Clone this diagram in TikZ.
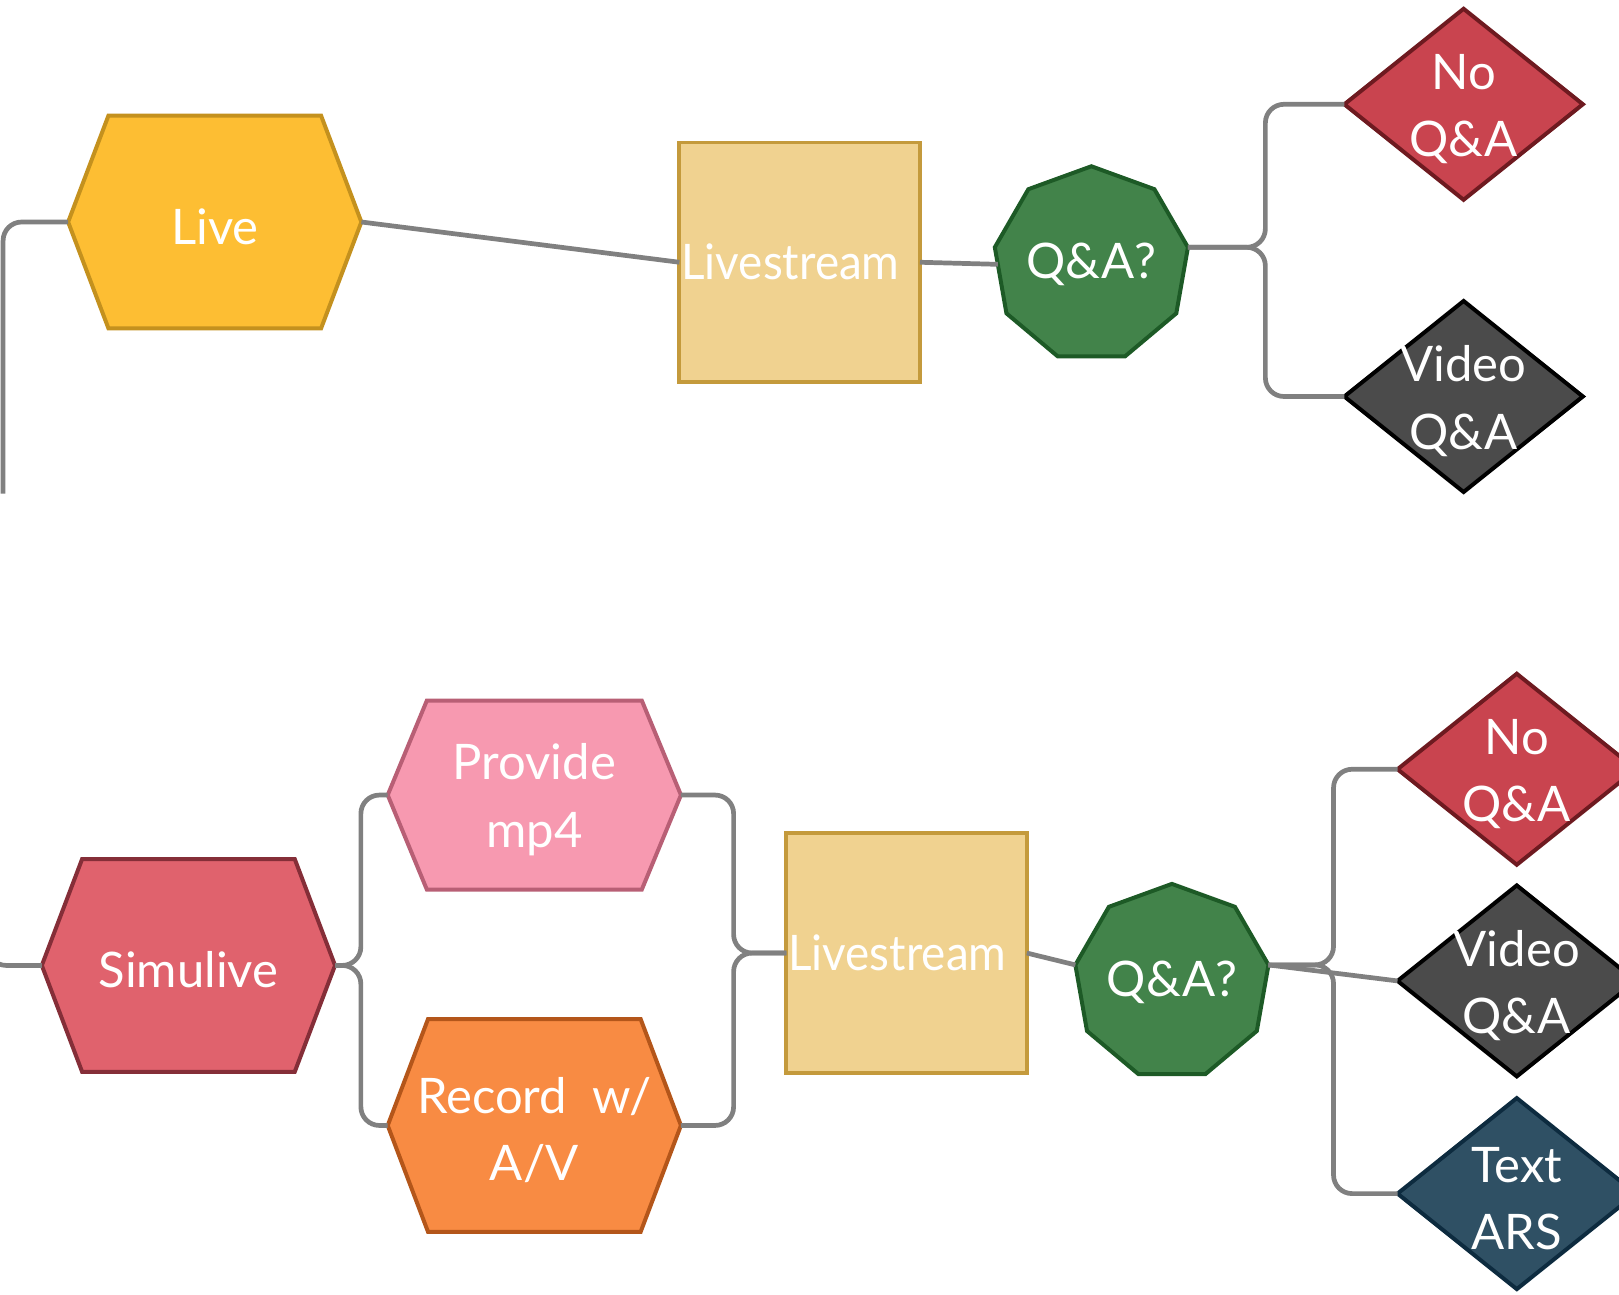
\documentclass[tikz,border=0pt]{standalone}
\usepackage{fontspec}
\setmainfont{Lato}
\usetikzlibrary{shapes.geometric,shapes.symbols}

\definecolor{liveFill}{HTML}{FDBE33}
\definecolor{liveLine}{HTML}{C4911E}
\definecolor{lsFill}{HTML}{F0D290}
\definecolor{lsLine}{HTML}{C49A3C}
\definecolor{qaFill}{HTML}{42834A}
\definecolor{qaLine}{HTML}{1D5A26}
\definecolor{noFill}{HTML}{C9444F}
\definecolor{noLine}{HTML}{6E1A20}
\definecolor{vidFill}{HTML}{4B4B4B}
\definecolor{arsFill}{HTML}{2F5064}
\definecolor{arsLine}{HTML}{0D2B3F}
\definecolor{simFill}{HTML}{E0626D}
\definecolor{simLine}{HTML}{852E38}
\definecolor{mpFill}{HTML}{F799B0}
\definecolor{mpLine}{HTML}{B85F75}
\definecolor{recFill}{HTML}{F88B43}
\definecolor{recLine}{HTML}{B4561A}
\definecolor{connGray}{HTML}{808080}

\newcommand{\lstext}{\scalebox{0.935}[1]{Livestream}\hspace*{0.18cm}}

\tikzset{
	txt/.style={text=white, align=center, font=\fontsize{13.5}{18.5}\selectfont},
	lbl/.style={txt, yshift=-0.045cm},
	conn/.style={draw=connGray, line width=1.3pt, rounded corners=0.18cm},
	hexa/.style 2 args={signal, signal to=east and west, signal pointer angle=138.5,
		fill=#1, draw=#2, line width=1.1pt, inner sep=0pt, outer sep=0pt,
		minimum width=2.84cm, minimum height=2.06cm},
	sq/.style={rectangle, txt, fill=lsFill, draw=lsLine, line width=1.1pt, inner sep=0pt,
		outer sep=0pt, minimum width=2.33cm, minimum height=2.32cm},
	nona/.style={regular polygon, regular polygon sides=9, txt, fill=qaFill, draw=qaLine,
		line width=1.1pt, inner sep=0pt, outer sep=0pt, minimum size=1.83cm},
	dia/.style 2 args={diamond, fill=#1, draw=#2, line width=1.1pt, inner sep=0pt,
		outer sep=0pt, minimum width=2.31cm, minimum height=1.85cm}
}

\begin{document}
\begin{tikzpicture}[x=0.1mm, y=-0.1mm]
	%%%%% START %%%%%
	\useasboundingbox (0,0) rectangle (1568,1254);
	\clip (0,0) rectangle (1568,1254);

	% live
	\node[hexa={liveFill}{liveLine}, label={[lbl]center:Live}] (live) at (208,215) {};
	\node[sq] (ls1) at (774.5,254) {\lstext};
	\node[nona] (qa1) at (1057,256) {Q\&A?};
	\node[dia={noFill}{noLine}, label={[lbl]center:No\\Q\&A}] (noqa1) at (1417.5,101) {};
	\node[dia={vidFill}{black}, label={[lbl]center:Video\\Q\&A}] (vqa1) at (1417.5,384) {};

	\coordinate (liveTrunk) at (3,478);
	\draw[conn] (liveTrunk) |- (live.west);
	\draw[conn] (live.east) -- (ls1.west);
	\draw[conn] (ls1.east) -- (qa1.west);
	\draw[conn] (qa1.corner 8) -- ++(75,0) |- (noqa1.west);
	\draw[conn] (qa1.corner 8) -- ++(75,0) |- (vqa1.west);

	% simulive
	\node[hexa={simFill}{simLine}, label={[lbl]center:Simulive}] (sim) at (182.5,935) {};
	\node[hexa={mpFill}{mpLine}, minimum height=1.83cm, signal pointer angle=135,
		label={[lbl]center:Provide\\mp4}] (mp4) at (517.5,770) {};
	\node[hexa={recFill}{recLine}, label={[lbl]center:Record~~w/\\A/V}] (rec) at (517.5,1090) {};
	\node[sq] (ls2) at (878,923) {\lstext};
	\node[nona, minimum size=1.8cm] (qa2) at (1135,951) {Q\&A?};
	\node[dia={noFill}{noLine}, label={[lbl]center:No\\Q\&A}] (noqa2) at (1469,745) {};
	\node[dia={vidFill}{black}, label={[lbl]center:Video\\Q\&A}] (vqa2) at (1469,950) {};
	\node[dia={arsFill}{arsLine}, label={[lbl]center:Text\\ARS}] (ars) at (1469,1156) {};

	\coordinate (simTrunk) at (-12,800);
	\draw[conn] (simTrunk) |- (sim.west);
	\draw[conn] (sim.east) -- ++(25,0) |- (mp4.west);
	\draw[conn] (sim.east) -- ++(25,0) |- (rec.west);
	\draw[conn] (mp4.east) -- ++(51,0) |- (ls2.west);
	\draw[conn] (rec.east) -- ++(51,0) |- (ls2.west);
	\draw[conn] (ls2.east) -- (qa2.corner 3);
	\draw[conn] (qa2.corner 8) -- ++(63,0) |- (noqa2.west);
	\draw[conn] (qa2.corner 8) -- (vqa2.west);
	\draw[conn] (qa2.corner 8) -- ++(63,0) |- (ars.west);

	%%%%% END %%%%%
\end{tikzpicture}
\end{document}
